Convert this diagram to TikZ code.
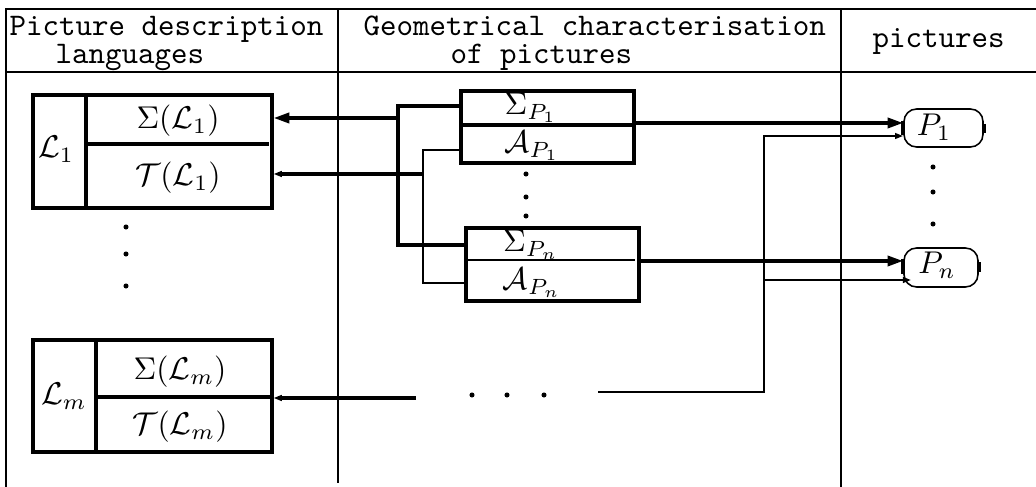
\documentclass[tikz,border=0pt]{standalone}
\usetikzlibrary{arrows.meta}
\usetikzlibrary{fit}

\tikzset{
  rule/.style={line width=0.85pt},
  part/.style={draw, line width=1pt, inner sep=0pt},
  sep/.style={line width=1pt},
  bus/.style={line width=1.1pt},
  tap/.style={line width=0.75pt},
  bigarrow/.style={-{Triangle[length=5pt,width=3.2pt]}, line width=1.1pt},
  smallarrow/.style={-{Triangle[length=2.6pt,width=1.8pt]}},
  picbox/.style={draw, rounded corners=4pt, line width=0.5pt, inner sep=0pt},
  head/.style={anchor=base west, inner sep=0pt, font=\ttfamily},
}

\begin{document}
\begin{tikzpicture}[x=0.318pt, y=-0.318pt]
  \useasboundingbox (0,0) rectangle (1036,487);

  % table frame
  \draw[rule] (1036,9) -- (6,9) -- (6,487);
  \draw[rule] (6,72) -- (1036,72);
  \draw[rule] (338,9) -- (338,483);
  \draw[rule] (841,9) -- (841,487);

  % column heads
  \node[head] (h1a) at (9,36) {Picture description};
  \node[head] (h1b) at (55,64) {languages};
  \node[head] (h2a) at (363,36) {Geometrical characterisation};
  \node[head] (h2b) at (450,64) {of pictures};
  \node[head] (h3) at (872,48) {pictures};

  % description languages
  \node[part, fit={(33,95) (272,208)}] (L1) {};
  \draw[sep] (86,95) -- (86,208);
  \draw[sep] (86,144) -- (269,144);
  \node (L1n) at (56,149) {$\mathcal{L}_1$};
  \node (L1s) at (178,121) {$\Sigma(\mathcal{L}_1)$};
  \node (L1t) at (178,178) {$\mathcal{T}(\mathcal{L}_1)$};

  \foreach \y in {227,254,286} \fill (126,\y) circle (0.8pt);

  \node[part, fit={(33,340) (272,452)}] (Lm) {};
  \draw[sep] (96,340) -- (96,450);
  \draw[sep] (96,397) -- (272,397);
  \node (Lmn) at (64,396) {$\mathcal{L}_m$};
  \node (Lms) at (180,372) {$\Sigma(\mathcal{L}_m)$};
  \node (Lmt) at (180,427) {$\mathcal{T}(\mathcal{L}_m)$};

  % geometrical characterisations
  \node[part, fit={(461,91) (634,163)}] (G1) {};
  \draw[sep] (461,125) -- (634,125);
  \node (G1s) at (531,108) {$\Sigma_{P_1}$};
  \node (G1a) at (532,146) {$\mathcal{A}_{P_1}$};

  \foreach \y in {174,197,216} \fill (526,\y) circle (0.8pt);

  \node[part, fit={(466,228) (639,301)}] (Gn) {};
  \draw[tap] (466,260) -- (635,260);
  \node (Gns) at (531,245) {$\Sigma_{P_n}$};
  \node (Gna) at (532,283) {$\mathcal{A}_{P_n}$};

  \foreach \x in {472,507,544} \fill (\x,395) circle (0.8pt);

  % pictures
  \node[picbox, fit={(904,109) (983,147)}] (P1) {};
  \node (P1l) at (934,127) {$P_1$};
  \node[picbox, fit={(904,248) (978,287)}] (Pn) {};
  \node (Pnl) at (937,265) {$P_n$};
  \draw[line width=1.1pt] (P1.west) ++(0,-7) -- ++(0,14);
  \draw[line width=1.1pt] (P1.east) ++(0,-4) -- ++(0,9);
  \draw[line width=1.1pt] (Pn.west) ++(0,-8) -- ++(0,15);
  \draw[line width=1.1pt] (Pn.east) ++(0,-5) -- ++(0,10);

  \foreach \y in {167,192,224} \fill (933,\y) circle (0.8pt);

  % buses back to the languages
  \coordinate (sbus) at (398,118);
  \coordinate (tbus) at (423,174);
  \draw[bus] (G1.west |- 0,106) -| (sbus) |- (Gn.west |- 0,245);
  \draw[bigarrow] (sbus) -- (L1.east |- sbus);
  \draw[tap] (G1.west |- 0,150) -| (tbus) |- (Gn.west |- 0,283);
  \draw[bus, smallarrow] (tbus) -- (L1.east |- tbus);

  \coordinate (ldots) at (416,398);
  \draw[bus, smallarrow] (ldots) -- (Lm.east |- ldots);

  % links to the pictures
  \draw[bigarrow] (G1.east |- 0,123) -- (P1.west |- 0,123);
  \draw[bigarrow] (Gn.east |- 0,261) -- (Pn.west |- 0,261);

  \coordinate (rdots) at (598,392);
  \coordinate (fork) at (764,280);
  \draw[tap, smallarrow] (rdots) -| (fork) |- (P1.west |- 0,136);
  \draw[tap, smallarrow] (fork) -- ([xshift=2.5pt]Pn.west |- fork);
\end{tikzpicture}
\end{document}
